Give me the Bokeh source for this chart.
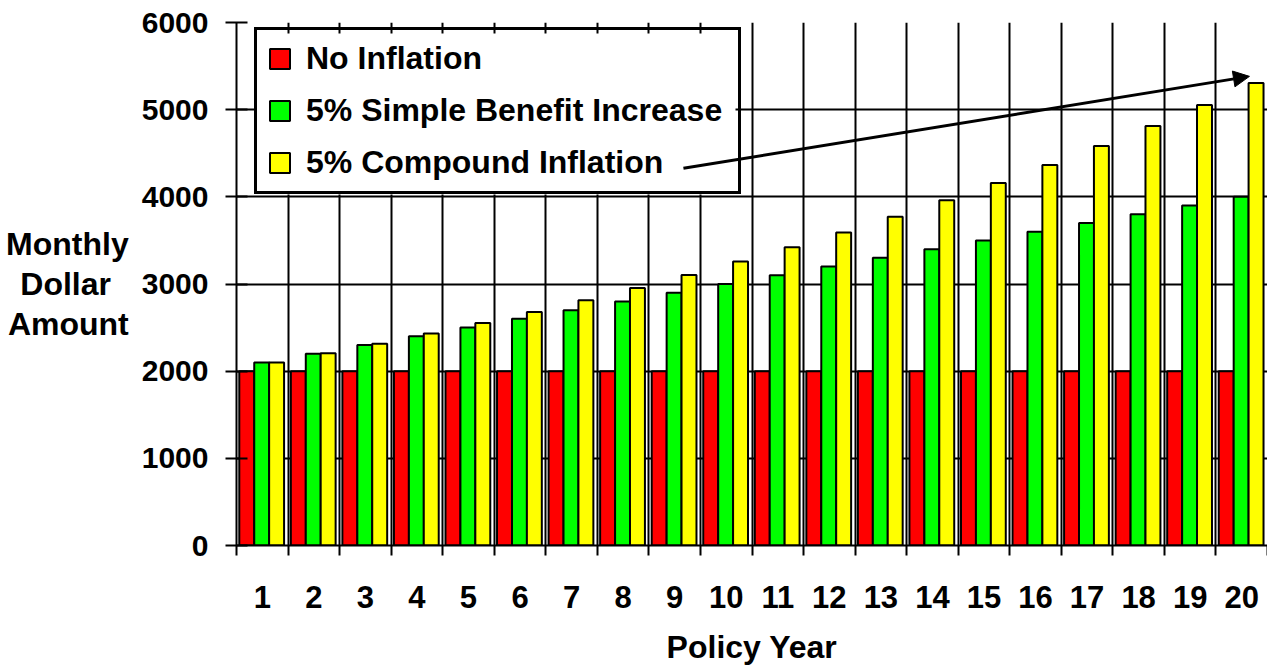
from bokeh.plotting import figure
from bokeh.models import (ColumnDataSource, Range1d, FixedTicker, Legend, LegendItem,
                          Arrow, NormalHead, BoxAnnotation)
from bokeh.transform import dodge
from bokeh.embed import file_html
from bokeh.resources import INLINE

# ---------------- data ----------------
years = [1, 2, 3, 4, 5, 6, 7, 8, 9, 10, 11, 12, 13, 14, 15, 16, 17, 18, 19, 20]
year_labels = ["1", "2", "3", "4", "5", "6", "7", "8", "9", "10",
               "11", "12", "13", "14", "15", "16", "17", "18", "19", "20"]
no_inflation = [2000, 2000, 2000, 2000, 2000, 2000, 2000, 2000, 2000, 2000,
                2000, 2000, 2000, 2000, 2000, 2000, 2000, 2000, 2000, 2000]
simple_increase = [2100, 2200, 2300, 2400, 2500, 2600, 2700, 2800, 2900, 3000,
                   3100, 3200, 3300, 3400, 3500, 3600, 3700, 3800, 3900, 4000]
compound_inflation = [2100, 2205, 2315, 2431, 2553, 2680, 2814, 2955, 3103, 3258,
                      3421, 3592, 3771, 3960, 4158, 4366, 4584, 4813, 5054, 5307]
y_ticks = [0, 1000, 2000, 3000, 4000, 5000, 6000]
series_names = ["No Inflation", "5% Simple Benefit Increase", "5% Compound Inflation"]
series_fields = ["none", "simple", "compound"]
series_colors = ["#FF0000", "#00FF00", "#FFFF00"]
# no-break spaces visually centre the shorter middle line (axis titles are right-aligned)
y_title = "Monthly\nDollar\u00a0\u00a0\nAmount"
x_title = "Policy Year"

FONT = "Liberation Sans"

source = ColumnDataSource(dict(year=years, none=no_inflation,
                               simple=simple_increase, compound=compound_inflation))

p = figure(width=1267, height=667, output_backend="svg", toolbar_location=None,
           x_range=Range1d(0.5, 20.5), y_range=Range1d(0, 6000),
           min_border_left=236, min_border_right=0, min_border_top=22,
           min_border_bottom=121)
p.outline_line_color = None
p.background_fill_color = "white"

boundaries = [years[0] - 0.5] + [y + 0.5 for y in years]

# grids
p.xgrid.ticker = FixedTicker(ticks=boundaries)
p.ygrid.ticker = FixedTicker(ticks=y_ticks)
for g in (p.xgrid[0], p.ygrid[0]):
    g.grid_line_color = "black"
    g.grid_line_width = 2

# bars
offsets = [-0.301, -0.011, 0.278]
renderers = []
for fld, col, off in zip(series_fields, series_colors, offsets):
    r = p.vbar(x=dodge("year", off, range=p.x_range), top=fld, width=0.29,
               fill_color=col, line_color="black", line_width=2, source=source)
    renderers.append(r)

# x axis
xa = p.xaxis[0]
xa.ticker = FixedTicker(ticks=years, minor_ticks=boundaries)
xa.major_label_overrides = {y: lab for y, lab in zip(years, year_labels)}
xa.major_tick_out = 0
xa.major_tick_in = 0
xa.minor_tick_out = 10
xa.minor_tick_in = 0
xa.minor_tick_line_width = 2
xa.minor_tick_line_color = "black"
xa.axis_line_width = 2
xa.axis_line_color = "black"
xa.major_label_standoff = 30
xa.major_label_text_font = FONT
xa.major_label_text_font_style = "bold"
xa.major_label_text_font_size = "31px"
xa.major_label_text_color = "black"
xa.axis_label = x_title
xa.axis_label_standoff = 18
xa.axis_label_text_font = FONT
xa.axis_label_text_font_style = "bold"
xa.axis_label_text_font_size = "32px"
xa.axis_label_text_color = "black"

# y axis
ya = p.yaxis[0]
ya.ticker = FixedTicker(ticks=y_ticks)
ya.major_tick_in = 11
ya.major_tick_out = 11
ya.major_tick_line_width = 2
ya.major_tick_line_color = "black"
ya.minor_tick_in = 0
ya.minor_tick_out = 0
ya.axis_line_width = 2
ya.axis_line_color = "black"
ya.major_label_standoff = 17
ya.major_label_text_font = FONT
ya.major_label_text_font_style = "bold"
ya.major_label_text_font_size = "30px"
ya.major_label_text_color = "black"
ya.axis_label = y_title
ya.axis_label_orientation = "horizontal"
ya.axis_label_standoff = 10
ya.axis_label_text_font = FONT
ya.axis_label_text_font_style = "bold"
ya.axis_label_text_font_size = "32px"
ya.axis_label_text_color = "black"
ya.axis_label_text_line_height = 1.1

# legend geometry (screen px, relative to the frame's bottom-left)
LEG_PAD, LEG_GLYPH, LEG_STANDOFF, LEG_LABEL_W = 10, 25, 14, 422
LEG_ROW, LEG_SPACING = 37, 15
LEG_X, LEG_Y = 18, 351
LEG_W = 2 * LEG_PAD + LEG_GLYPH + LEG_STANDOFF + LEG_LABEL_W
LEG_H = 2 * LEG_PAD + 3 * LEG_ROW + 2 * LEG_SPACING

# white panel behind the (transparent) legend so the arrow can cross it
p.add_layout(BoxAnnotation(left=LEG_X, right=LEG_X + LEG_W, bottom=LEG_Y, top=LEG_Y + LEG_H,
                           left_units="screen", right_units="screen",
                           bottom_units="screen", top_units="screen",
                           fill_color="white", fill_alpha=1.0, line_color=None,
                           level="underlay"))

# arrow pointing at the compound inflation bar
arrow = Arrow(end=NormalHead(size=16, fill_color="black", line_color="black"),
              x_start=9.17, y_start=4328, x_end=20.15, y_end=5382,
              line_width=3, line_color="black")
p.add_layout(arrow)

legend = Legend(items=[LegendItem(label=n, renderers=[r]) for n, r in zip(series_names, renderers)],
                location=(LEG_X, LEG_Y), orientation="vertical",
                label_text_font=FONT, label_text_font_style="bold",
                label_text_font_size="32px", label_text_color="black",
                glyph_width=LEG_GLYPH, glyph_height=LEG_GLYPH, label_standoff=LEG_STANDOFF,
                padding=LEG_PAD, spacing=LEG_SPACING, label_height=36, label_width=LEG_LABEL_W,
                border_line_color="black", border_line_width=3, border_line_alpha=1.0,
                background_fill_alpha=0.0)
p.add_layout(legend)

open("out.html", "w").write(file_html(p, INLINE))
